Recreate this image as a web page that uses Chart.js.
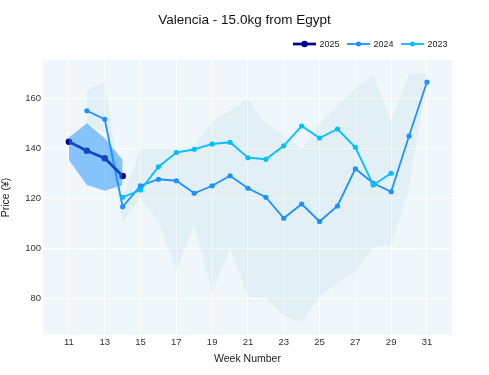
<!DOCTYPE html>
<html>
<head>
<meta charset="utf-8">
<script src="https://cdn.jsdelivr.net/npm/chart.js@4.4.1/dist/chart.umd.min.js"></script>
<style>
  html, body { margin: 0; padding: 0; background: #fff; }
</style>
</head>
<body>
<canvas id="chart" width="489" height="375"></canvas>
<script>
const FONT = "'Liberation Sans', Arial, Helvetica, sans-serif";

const weeks2025 = [11, 12, 13, 14];
const price2025 = [142.6, 139.0, 136.0, 128.9];
const band2025Upper = [144.3, 150.0, 144.0, 135.3];
const band2025Lower = [135.3, 125.3, 123.0, 125.3];

const weeks2024 = [12, 13, 14, 15, 16, 17, 18, 19, 20, 21, 22, 23, 24, 25, 26, 27, 28, 29, 30, 31];
const price2024 = [155.0, 151.6, 116.6, 125.0, 127.6, 127.0, 122.0, 125.0, 129.0, 124.0,
                   120.4, 112.0, 117.7, 110.7, 116.9, 131.8, 126.0, 122.6, 144.9, 166.5];
// faint min / max range behind the lines
const rangeUpper = [163.3, 166.6, 120.0, 140.0, 140.0, 140.0, 140.7, 150.7, 155.0, 159.6,
                    150.0, 145.0, 140.0, 150.0, 157.0, 164.0, 169.3, 150.7, 170.0, 170.0];
const rangeLower = [150.0, 146.0, 110.7, 120.0, 110.7, 91.3, 109.0, 82.0, 100.0, 80.7,
                    80.0, 73.0, 70.6, 80.7, 86.0, 90.5, 100.3, 101.0, 124.0, 168.0];

const weeks2023 = [14, 15, 16, 17, 18, 19, 20, 21, 22, 23, 24, 25, 26, 27, 28, 29];
const price2023 = [120.4, 123.3, 132.6, 138.3, 139.6, 141.7, 142.4, 136.2, 135.6, 141.0,
                   148.9, 144.1, 147.7, 140.4, 125.3, 130.0];

const xTicks = [11, 13, 15, 17, 19, 21, 23, 25, 27, 29, 31];
const yTicks = [80, 100, 120, 140, 160];

const legendItems = [
  { label: "2025", color: "#00008B", width: 2.7, r: 3.2 },
  { label: "2024", color: "#1E90FF", width: 1.8, r: 2.5 },
  { label: "2023", color: "#00BFFF", width: 1.8, r: 2.5 },
];

const toPoints = (xs, ys) => xs.map((x, i) => ({ x, y: ys[i] }));

const plotBackground = {
  id: "plotBackground",
  beforeDraw(chart) {
    const { ctx, chartArea: a } = chart;
    ctx.save();
    ctx.fillStyle = "#fff";
    ctx.fillRect(0, 0, chart.width, chart.height);
    ctx.fillStyle = "rgba(173,216,230,0.2)";
    ctx.fillRect(a.left, a.top, a.right - a.left, a.bottom - a.top);
    ctx.restore();
  },
};

const titleAndLegend = {
  id: "titleAndLegend",
  afterDraw(chart) {
    const { ctx } = chart;
    ctx.save();
    ctx.fillStyle = "#111";
    ctx.font = `13.5px ${FONT}`;
    ctx.textAlign = "center";
    ctx.textBaseline = "middle";
    ctx.fillText("Valencia - 15.0kg from Egypt", chart.width / 2, 20);

    let x = 293;
    const y = 44;
    ctx.font = `9px ${FONT}`;
    ctx.textAlign = "left";
    legendItems.forEach(item => {
      ctx.strokeStyle = item.color;
      ctx.lineWidth = item.width;
      ctx.beginPath();
      ctx.moveTo(x, y);
      ctx.lineTo(x + 23, y);
      ctx.stroke();
      ctx.fillStyle = item.color;
      ctx.beginPath();
      ctx.arc(x + 11.5, y, item.r, 0, Math.PI * 2);
      ctx.fill();
      ctx.fillStyle = "#222";
      ctx.fillText(item.label, x + 26.5, y + 0.5);
      x += 54;
    });
    ctx.restore();
  },
};

const config = {
  type: "line",
  plugins: [plotBackground, titleAndLegend],
  data: {
    datasets: [
      {
        label: "2025 range top",
        data: toPoints(weeks2025, band2025Upper),
        fill: "+1",
        backgroundColor: "rgba(30,144,255,0.5)",
        borderWidth: 0,
        pointRadius: 0,
        order: 0,
      },
      {
        label: "2025 range bottom",
        data: toPoints(weeks2025, band2025Lower),
        fill: false,
        borderWidth: 0,
        pointRadius: 0,
        order: 0,
      },
      {
        label: "2025",
        data: toPoints(weeks2025, price2025),
        borderColor: "#00008B",
        backgroundColor: "#00008B",
        borderWidth: 2.7,
        pointRadius: 3.3,
        pointBorderWidth: 0,
        order: 1,
      },
      {
        label: "2023",
        data: toPoints(weeks2023, price2023),
        borderColor: "#00BFFF",
        backgroundColor: "#00BFFF",
        borderWidth: 1.8,
        pointRadius: 2.6,
        pointBorderWidth: 0,
        order: 2,
      },
      {
        label: "2024",
        data: toPoints(weeks2024, price2024),
        borderColor: "#1E90FF",
        backgroundColor: "#1E90FF",
        borderWidth: 1.8,
        pointRadius: 2.6,
        pointBorderWidth: 0,
        order: 3,
      },
      {
        label: "range top",
        data: toPoints(weeks2024, rangeUpper),
        fill: "+1",
        backgroundColor: "rgba(173,216,230,0.2)",
        borderWidth: 0,
        pointRadius: 0,
        order: 10,
      },
      {
        label: "range bottom",
        data: toPoints(weeks2024, rangeLower),
        fill: false,
        borderWidth: 0,
        pointRadius: 0,
        order: 10,
      },
    ],
  },
  options: {
    responsive: false,
    animation: false,
    events: [],
    devicePixelRatio: 1,
    layout: { padding: { left: 0, top: 60, right: 37, bottom: 0 } },
    plugins: {
      legend: { display: false },
      title: { display: false },
      tooltip: { enabled: false },
    },
    scales: {
      x: {
        type: "linear",
        min: 9.55,
        max: 32.4,
        afterBuildTicks: scale => { scale.ticks = xTicks.map(v => ({ value: v })); },
        afterFit: scale => { scale.height = 40; },
        grid: { color: "#fff", lineWidth: 1, drawTicks: false },
        border: { display: false },
        ticks: { color: "#333", padding: 2, maxRotation: 0, font: { family: FONT, size: 9.5 } },
        title: {
          display: true,
          text: "Week Number",
          color: "#222",
          padding: { top: 0, bottom: 10 },
          font: { family: FONT, size: 10.5 },
        },
      },
      y: {
        min: 65.3,
        max: 175.3,
        afterBuildTicks: scale => { scale.ticks = yTicks.map(v => ({ value: v })); },
        afterFit: scale => { scale.width = 43; },
        grid: { color: "#fff", lineWidth: 1, drawTicks: false },
        border: { display: false },
        ticks: { color: "#333", padding: 2, font: { family: FONT, size: 9.5 } },
        title: {
          display: true,
          text: "Price (¥)",
          color: "#222",
          padding: { top: 0, bottom: 0 },
          font: { family: FONT, size: 10.5 },
        },
      },
    },
  },
};

new Chart(document.getElementById("chart"), config);
</script>
</body>
</html>
